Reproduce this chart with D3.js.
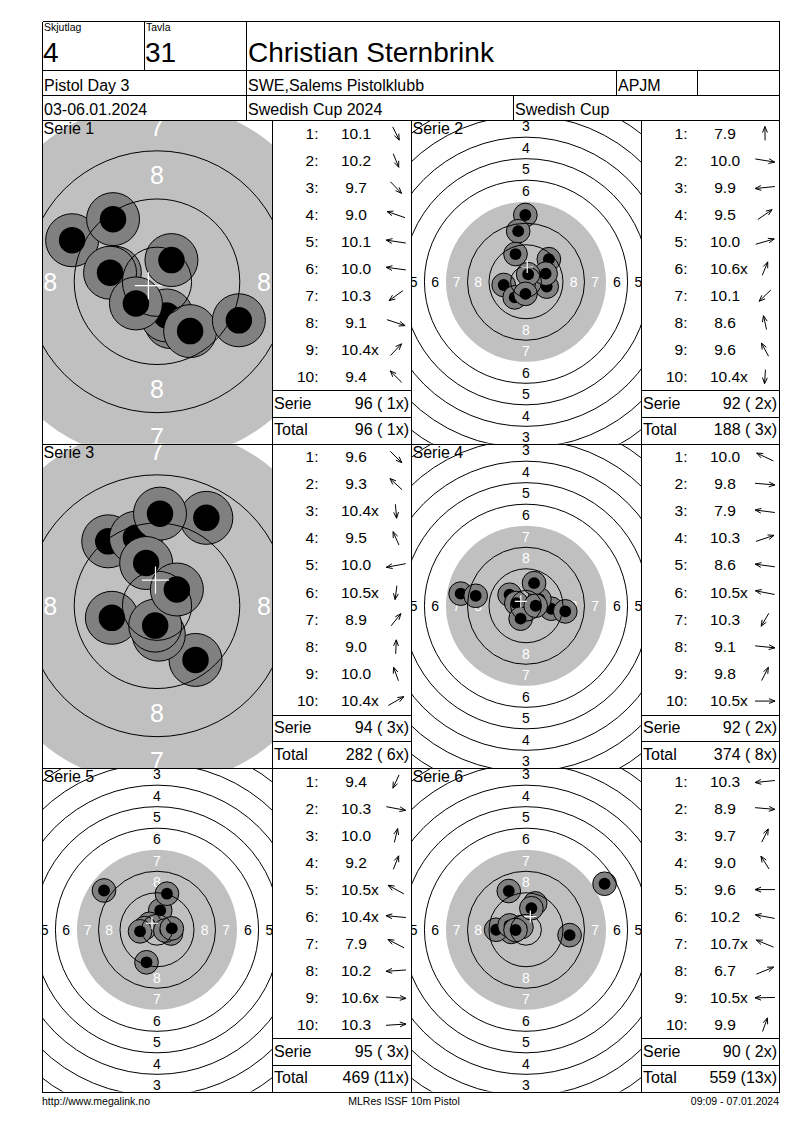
<!DOCTYPE html>
<html>
<head>
<meta charset="utf-8">
<script src="https://cdn.jsdelivr.net/npm/d3@7"></script>
<style>
  html, body { margin: 0; padding: 0; background: #fff; }
  svg { display: block; font-family: "Liberation Sans", Arial, sans-serif; }
  text { white-space: pre; }
</style>
</head>
<body>
<div id="screen"></div>
<script>
// header texts
const headerLabels = ["Skjutlag", "Tavla"]
const headerValues = ["4", "31"]
const shooterName = "Christian Sternbrink"
const rowTwo = ["Pistol Day 3", "SWE,Salems Pistolklubb", "APJM"]
const rowThree = ["03-06.01.2024", "Swedish Cup 2024", "Swedish Cup"]
const footerTexts = ["http://www.megalink.no", "MLRes ISSF 10m Pistol", "09:09 - 07.01.2024"]

const serieNames = ["Serie 1", "Serie 2", "Serie 3", "Serie 4", "Serie 5", "Serie 6"]

// scores as printed, hit positions in mm from the target centre (x right, y down)
const s1Scores = ["10.1", "10.2", "9.7", "9.0", "10.1", "10.0", "10.3", "9.1", "10.4x", "9.4"]
const s1Hits = [[2.3, 6.7], [1.6, 5.6], [5.5, 8.2], [-14.1, -6.9], [-7.0, -1.5], [-7.8, -1.5], [-3.5, 3.6], [13.6, 6.4], [2.4, -3.6], [-7.3, -10.4]]
const s2Scores = ["7.9", "10.0", "9.9", "9.5", "10.0", "10.6x", "10.1", "8.6", "9.6", "10.4x"]
const s2Hits = [[-0.25, -24.8], [7.7, 1.8], [-8.3, 1.2], [8.5, -8.4], [7.3, -3.0], [0.8, -2.8], [-4.2, 5.8], [-2.9, -18.8], [-3.9, -10.3], [-0.2, 4.5]]
const s3Scores = ["9.6", "9.3", "10.4x", "9.5", "10.0", "10.5x", "8.9", "9.0", "10.0", "10.4x"]
const s3Hits = [[6.4, 9.0], [-8.1, -10.7], [0.3, 4.8], [-3.5, -11.3], [-7.5, 2.0], [-0.3, 3.3], [8.2, -14.6], [0.5, -15.3], [-1.8, -7.1], [3.3, -2.7]]
const s4Scores = ["10.0", "9.8", "7.9", "10.3", "8.6", "10.5x", "10.3", "9.1", "9.8", "10.5x"]
const s4Hits = [[-6.1, -4.1], [9.4, 1.1], [-24.3, -4.5], [5.0, -2.4], [-18.7, -3.7], [-3.6, -1.0], [-2.0, 4.8], [14.6, 2.1], [3.0, -8.4], [3.6, 0.0]]
const s5Scores = ["9.4", "10.3", "10.0", "9.2", "10.5x", "10.4x", "7.9", "10.2", "10.6x", "10.3"]
const s5Hits = [[-3.9, 12.1], [5.2, 1.4], [1.2, -7.2], [3.7, -13.4], [-2.8, -2.2], [-4.6, -0.6], [-19.7, -14.6], [-6.3, 0.6], [3.1, 0.3], [5.5, -0.5]]
const s6Scores = ["10.3", "8.9", "9.7", "9.0", "9.6", "10.2", "10.7x", "6.7", "10.5x", "9.9"]
const s6Hits = [[-5.5, 0.8], [16.2, 2.0], [3.4, -9.8], [-6.4, -14.4], [-11.1, 0.0], [-6.1, -1.6], [-1.7, -1.0], [29.2, -17.1], [-3.9, 0.1], [2.0, -8.0]]

const allScores = [s1Scores, s2Scores, s3Scores, s4Scores, s5Scores, s6Scores]
const allHits = [s1Hits, s2Hits, s3Hits, s4Hits, s5Hits, s6Hits]

// view settings
const pxPerMm = [6.02, 2.69, 6.02, 2.69, 2.69, 2.69]
const ringLabelPx = [25, 14, 25, 14, 14, 14]
const colX = [42, 272, 411, 641, 779]
const rowY = [120, 443.5, 768, 1091.5]
const headY = [20.5, 70, 95, 120]

function ringRadius(n) { return 5.75 + 8 * (10 - n) }

var svg = d3.select('#screen').append('svg')
    .attr('width', 800)
    .attr('height', 1130)
svg.append('rect').attr('width', 800).attr('height', 1130).attr('fill', '#fff')

var lines = []

function drawTarget(i)
{
    var row = Math.floor(i / 2), col = i % 2
    var x0 = colX[col * 2], x1 = colX[col * 2 + 1]
    var y0 = rowY[row], y1 = rowY[row + 1]
    var cx = (x0 + x1) / 2, cy = (y0 + y1) / 2, k = pxPerMm[i]
    var xs = d3.scaleLinear().domain([0, 1]).range([cx, cx + k])
    var ys = d3.scaleLinear().domain([0, 1]).range([cy, cy + k])
    var rs = d3.scaleLinear().domain([0, 1]).range([0, k])

    svg.append('clipPath').attr('id', 'clip' + i)
        .append('rect')
        .attr('x', x0).attr('y', y0)
        .attr('width', x1 - x0).attr('height', y1 - y0)
    var g = svg.append('g').attr('clip-path', `url(#clip${i})`)

    // black aiming area (drawn grey), edge = ring 7
    g.append('circle')
        .attr('cx', xs(0)).attr('cy', ys(0))
        .attr('r', rs(ringRadius(7)))
        .attr('fill', '#c0c0c0')

    var labels = []
    d3.range(1, 9).forEach(function(n) {
        var m = (ringRadius(n) + ringRadius(n + 1)) / 2
        ;[[0, -m], [0, m], [-m, 0], [m, 0]].forEach(function(p) {
            var px = xs(p[0]), py = ys(p[1])
            if (px >= x0 && px <= x1 && py >= y0 && py <= y1) labels.push({n: n, x: p[0], y: p[1]})
        })
    })
    g.selectAll('text.ring').data(labels).join('text')
        .attr('class', 'ring')
        .attr('x', d => xs(d.x)).attr('y', d => ys(d.y))
        .attr('dy', '0.36em')
        .attr('text-anchor', 'middle')
        .attr('font-size', ringLabelPx[i])
        .attr('fill', d => d.n >= 7 ? '#fff' : '#000')
        .text(d => d.n)

    g.append('text')
        .attr('x', x0 + 1.5).attr('y', y0 + 14)
        .attr('font-size', 16)
        .text(serieNames[i])

    var hits = allHits[i]
    var shot = g.selectAll('g.shot').data(hits).join('g').attr('class', 'shot')
    shot.append('circle')
        .attr('cx', d => xs(d[0])).attr('cy', d => ys(d[1]))
        .attr('r', rs(4.4))
        .attr('fill', '#808080')
        .attr('stroke', '#000')
        .attr('stroke-width', 1)
    shot.append('circle')
        .attr('cx', d => xs(d[0])).attr('cy', d => ys(d[1]))
        .attr('r', rs(2.2))
        .attr('fill', '#000')

    g.selectAll('circle.ringline').data(d3.range(1, 11).filter(n => n != 7)).join('circle')
        .attr('class', 'ringline')
        .attr('cx', xs(0)).attr('cy', ys(0))
        .attr('r', d => rs(ringRadius(d)))
        .attr('fill', 'none')
        .attr('stroke', '#000')
        .attr('stroke-width', 1)

    // mean point of impact
    var mx = d3.mean(hits, d => d[0]), my = d3.mean(hits, d => d[1])
    var cross = d3.path()
    cross.moveTo(xs(mx - 2.25), ys(my))
    cross.lineTo(xs(mx + 2.25), ys(my))
    cross.moveTo(xs(mx), ys(my - 2.25))
    cross.lineTo(xs(mx), ys(my + 2.25))
    g.append('path').attr('d', cross.toString())
        .attr('stroke', '#fff').attr('stroke-width', 1.2).attr('fill', 'none')
}

function formatSum(scores)
{
    var sum = d3.sum(scores, s => Math.floor(parseFloat(s)))
    var xs = scores.filter(s => s.indexOf('x') >= 0).length
    return {sum: sum, x: xs}
}

function sumText(sum, x)
{
    var xt = String(x)
    if (xt.length < 2) xt = ' ' + xt
    return `${sum} (${xt}x)`
}

var runningSum = 0, runningX = 0

function drawTable(i)
{
    var row = Math.floor(i / 2), col = i % 2
    var tx0 = colX[col * 2 + 1], tx1 = colX[col * 2 + 2]
    var y0 = rowY[row], y1 = rowY[row + 1]
    var serieTop = y1 - 53.3, totalTop = y1 - 26.7
    var rowH = (serieTop - y0) / 10
    var scores = allScores[i], hits = allHits[i]
    var g = svg.append('g').attr('font-size', 15.5)

    scores.forEach(function(s, j) {
        var base = y0 + rowH * j + 18.5
        g.append('text')
            .attr('x', tx0 + 46.5).attr('y', base)
            .attr('text-anchor', 'end')
            .text((j + 1) + ':')
        var num = s.replace('x', '')
        var t = g.append('text')
            .attr('x', tx0 + 84).attr('y', base)
            .attr('text-anchor', 'middle')
            .text(num)
        if (s.indexOf('x') >= 0) {
            var w = t.node().getComputedTextLength()
            g.append('text')
                .attr('x', tx0 + 84 + w / 2).attr('y', base)
                .text('x')
        }
        // direction arrow towards the hit
        var a = Math.atan2(hits[j][1], hits[j][0])
        var ax = tx0 + 124, ay = base - 5
        var vx = 10 * Math.cos(a), vy = 7 * Math.sin(a)
        var phi = Math.atan2(vy, vx)
        var p = d3.path()
        p.moveTo(ax - vx, ay - vy)
        p.lineTo(ax + vx, ay + vy)
        p.moveTo(ax + vx + 6.5 * Math.cos(phi + Math.PI - 0.38), ay + vy + 6.5 * Math.sin(phi + Math.PI - 0.38))
        p.lineTo(ax + vx, ay + vy)
        p.lineTo(ax + vx + 6.5 * Math.cos(phi + Math.PI + 0.38), ay + vy + 6.5 * Math.sin(phi + Math.PI + 0.38))
        g.append('path').attr('d', p.toString())
            .attr('fill', 'none').attr('stroke', '#000').attr('stroke-width', 1)
    })

    var s = formatSum(scores)
    runningSum += s.sum
    runningX += s.x
    g.append('text').attr('x', tx0 + 2).attr('y', serieTop + 18.5).attr('font-size', 16).text('Serie')
    g.append('text').attr('x', tx1 - 2).attr('y', serieTop + 18.5).attr('font-size', 16)
        .attr('text-anchor', 'end').text(sumText(s.sum, s.x))
    g.append('text').attr('x', tx0 + 2).attr('y', totalTop + 18.5).attr('font-size', 16).text('Total')
    g.append('text').attr('x', tx1 - 2).attr('y', totalTop + 18.5).attr('font-size', 16)
        .attr('text-anchor', 'end').text(sumText(runningSum, runningX))

    lines.push([tx0, serieTop, tx1, serieTop])
    lines.push([tx0, totalTop, tx1, totalTop])
}

function drawHeader()
{
    var g = svg.append('g')
    g.append('text').attr('x', 44).attr('y', 31).attr('font-size', 10.5).text(headerLabels[0])
    g.append('text').attr('x', 146).attr('y', 31).attr('font-size', 10.5).text(headerLabels[1])
    g.append('text').attr('x', 43).attr('y', 62).attr('font-size', 28).text(headerValues[0])
    g.append('text').attr('x', 145).attr('y', 62).attr('font-size', 28).text(headerValues[1])
    g.append('text').attr('x', 248).attr('y', 62).attr('font-size', 28).text(shooterName)

    g.append('text').attr('x', 44).attr('y', 90.5).attr('font-size', 16).text(rowTwo[0])
    g.append('text').attr('x', 248).attr('y', 90.5).attr('font-size', 16).text(rowTwo[1])
    g.append('text').attr('x', 618).attr('y', 90.5).attr('font-size', 16).text(rowTwo[2])
    g.append('text').attr('x', 44).attr('y', 115).attr('font-size', 16).text(rowThree[0])
    g.append('text').attr('x', 248).attr('y', 115).attr('font-size', 16).text(rowThree[1])
    g.append('text').attr('x', 515).attr('y', 115).attr('font-size', 16).text(rowThree[2])

    var f = svg.append('g').attr('font-size', 10.5)
    f.append('text').attr('x', 42).attr('y', 1105).text(footerTexts[0])
    f.append('text').attr('x', 404).attr('y', 1105).attr('text-anchor', 'middle').text(footerTexts[1])
    f.append('text').attr('x', 779).attr('y', 1105).attr('text-anchor', 'end').text(footerTexts[2])

    headY.forEach(y => lines.push([colX[0], y, colX[4], y]))
    lines.push([144, headY[0], 144, headY[1]])
    lines.push([246, headY[0], 246, headY[3]])
    lines.push([616, headY[1], 616, headY[2]])
    lines.push([697, headY[1], 697, headY[2]])
    lines.push([513, headY[2], 513, headY[3]])
    lines.push([colX[0], headY[0], colX[0], rowY[3]])
    lines.push([colX[4], headY[0], colX[4], rowY[3]])
    colX.slice(1, 4).forEach(x => lines.push([x, rowY[0], x, rowY[3]]))
    rowY.forEach(y => lines.push([colX[0], y, colX[4], y]))
}

d3.range(6).forEach(i => drawTarget(i))
d3.range(6).forEach(i => drawTable(i))
drawHeader()

svg.append('g').selectAll('line').data(lines).join('line')
    .attr('x1', d => Math.round(d[0]) + 0.5).attr('y1', d => Math.round(d[1]) + 0.5)
    .attr('x2', d => Math.round(d[2]) + 0.5).attr('y2', d => Math.round(d[3]) + 0.5)
    .attr('stroke', '#000').attr('stroke-width', 1)
    .attr('shape-rendering', 'crispEdges')
</script>
</body>
</html>
